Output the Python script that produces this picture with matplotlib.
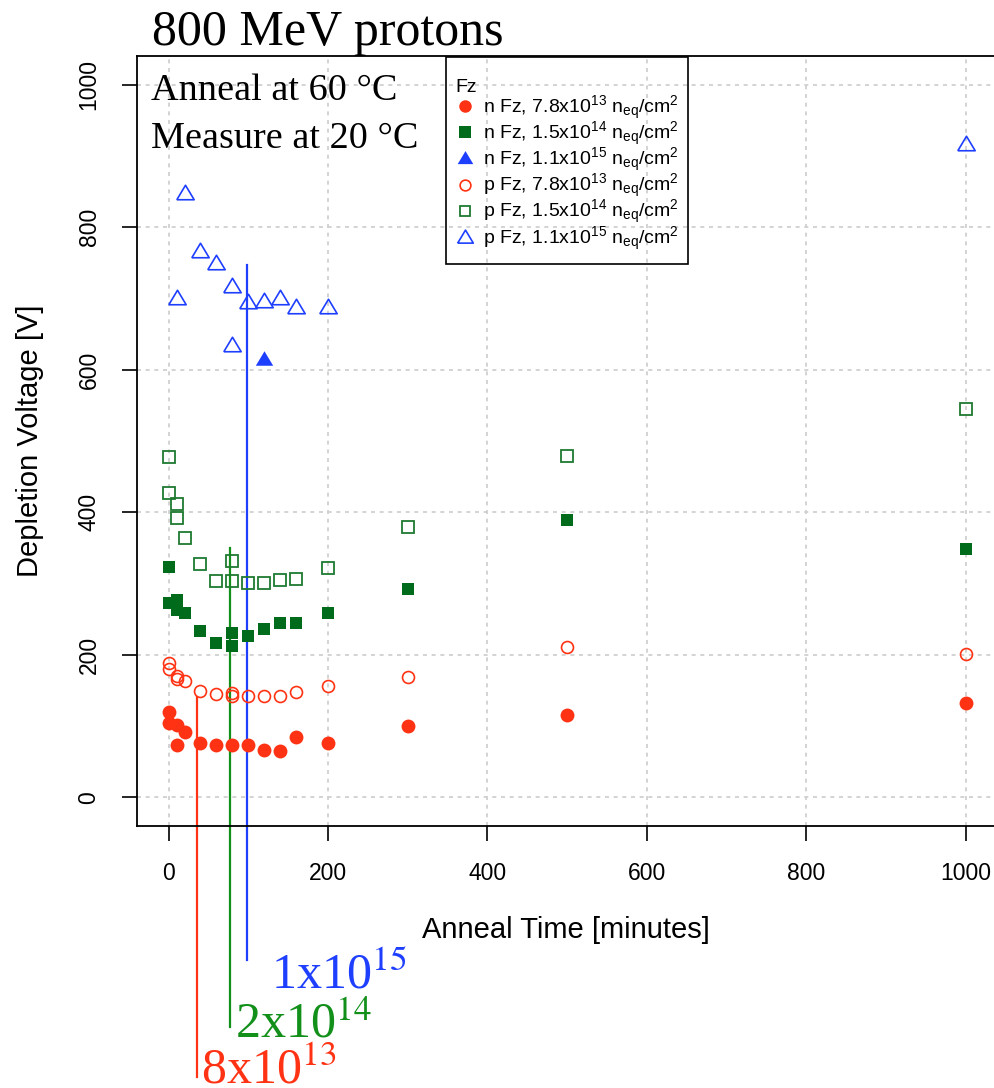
import matplotlib
matplotlib.use("Agg")
import matplotlib.pyplot as plt
from matplotlib.patches import Rectangle
import numpy as np

plt.rcParams['font.family'] = ['Liberation Sans', 'DejaVu Sans']
plt.rcParams['mathtext.fontset'] = 'custom'
plt.rcParams['mathtext.rm'] = 'Liberation Sans'
plt.rcParams['mathtext.it'] = 'Liberation Sans:italic'
plt.rcParams['mathtext.bf'] = 'Liberation Sans:bold'

# ---- data (anneal time [min], depletion voltage [V]) ----
n78_t = [0, 0, 10, 10, 20, 40, 60, 80, 100, 120, 140, 160, 200, 300, 500, 1000]
n78_v = [120, 105, 102, 74, 92, 76, 74, 74, 73, 67, 65, 85, 77, 100, 115, 133]

p78_t = [0, 0, 10, 10, 20, 40, 60, 80, 80, 100, 120, 140, 160, 200, 300, 500, 1000]
p78_v = [188, 180, 170, 166, 163, 149, 145, 146, 142, 143, 143, 143, 148, 157, 169, 211, 201]

n15_t = [0, 0, 10, 10, 20, 40, 60, 80, 80, 100, 120, 140, 160, 200, 300, 500, 1000]
n15_v = [323, 273, 277, 263, 259, 233, 217, 231, 213, 226, 237, 245, 245, 259, 293, 389, 349]

p15_t = [0, 0, 10, 10, 20, 40, 60, 80, 80, 100, 120, 140, 160, 200, 300, 500, 1000]
p15_v = [478, 427, 411, 392, 364, 327, 304, 331, 303, 301, 301, 305, 307, 322, 379, 479, 545]

n11_t = [120]
n11_v = [615]

p11_t = [10, 20, 40, 60, 80, 80, 100, 120, 140, 160, 200, 1000]
p11_v = [701, 848, 767, 749, 718, 634, 695, 697, 700, 688, 688, 917]

labels = [
    r"n Fz, 7.8x10$^{\mathrm{13}}$ n$_{\mathrm{eq}}$/cm$^{\mathrm{2}}$",
    r"n Fz, 1.5x10$^{\mathrm{14}}$ n$_{\mathrm{eq}}$/cm$^{\mathrm{2}}$",
    r"n Fz, 1.1x10$^{\mathrm{15}}$ n$_{\mathrm{eq}}$/cm$^{\mathrm{2}}$",
    r"p Fz, 7.8x10$^{\mathrm{13}}$ n$_{\mathrm{eq}}$/cm$^{\mathrm{2}}$",
    r"p Fz, 1.5x10$^{\mathrm{14}}$ n$_{\mathrm{eq}}$/cm$^{\mathrm{2}}$",
    r"p Fz, 1.1x10$^{\mathrm{15}}$ n$_{\mathrm{eq}}$/cm$^{\mathrm{2}}$",
]

# annotation markers (fluence guide lines)
ann_x = [98, 77.5, 36]
ann_top = [747, 350, 141]
ann_bottom = [-228, -322, -392]
ann_text = [r"1x10$^{15}$", r"2x10$^{14}$", r"8x10$^{13}$"]
ann_tx = [129, 83, 41]
ann_ty = [-268, -337, -401]

xticks = [0, 200, 400, 600, 800, 1000]
yticks = [0, 200, 400, 600, 800, 1000]

RED = '#FF3314'
GREEN = '#006B1A'
GREEN_O = '#1F7A30'
BLUE = '#1F3FFF'
LGREEN = '#12901A'

W, H = 994, 1088
fig = plt.figure(figsize=(W / 100, H / 100), dpi=100)
L, R, T, B = 136.7, 997.6, 56, 826
ax = fig.add_axes([L / W, 1 - B / H, (R - L) / W, (B - T) / H])
ax.set_xlim(-40, 1040)
ax.set_ylim(-40, 1040)

ax.set_xticks(xticks)
ax.set_yticks(yticks)
ax.grid(True, color='#d0d0d0', linestyle=(0, (2.2, 2.6)), linewidth=1.3, zorder=0)
ax.set_axisbelow(True)

tri = [(-1, -0.72), (1, -0.72), (0, 0.95), (-1, -0.72)]

h1, = ax.plot(n78_t, n78_v, 'o', color=RED, ms=10.0, mec=RED, mew=0, zorder=3, clip_on=False)
h2, = ax.plot(n15_t, n15_v, 's', color=GREEN, ms=8.8, mec=GREEN, mew=0, zorder=3, clip_on=False)
h3, = ax.plot(n11_t, n11_v, marker=tri, ls='none', color=BLUE, ms=12.5, mec=BLUE, mew=0, zorder=3)
h4, = ax.plot(p78_t, p78_v, 'o', mfc='none', mec=RED, ms=8.6, mew=1.2, zorder=3)
h5, = ax.plot(p15_t, p15_v, 's', mfc='none', mec=GREEN_O, ms=8.0, mew=1.3, zorder=3)
h6, = ax.plot(p11_t, p11_v, marker=tri, ls='none', mfc='none', mec=BLUE, ms=12.5, mew=1.2, zorder=3)

for sp in ['top', 'left', 'bottom', 'right']:
    ax.spines[sp].set_linewidth(1.3)

ax.tick_params(direction='out', length=11, width=1.2, labelsize=16.5, pad=15)
for lab in ax.get_yticklabels():
    lab.set_rotation(90)
    lab.set_va('center')

ax.set_xlabel("Anneal Time [minutes]", fontsize=21)
ax.xaxis.set_label_coords((566 - L) / (R - L), (B - 930) / (B - T))
ax.xaxis.label.set_va('center')
ax.set_ylabel("Depletion Voltage [V]", fontsize=21)
ax.yaxis.set_label_coords((30 - L) / (R - L), (B - 441) / (B - T))
ax.yaxis.label.set_va('center')

# title and condition text
ax.text((152 - L) / (R - L), (B - 45) / (B - T), "800 MeV protons", transform=ax.transAxes,
        fontsize=36, family='Liberation Serif', va='baseline', ha='left')
ax.text((151 - L) / (R - L), (B - 100) / (B - T), "Anneal at 60 \u00b0C", transform=ax.transAxes,
        fontsize=27.5, family='Liberation Serif', va='baseline', ha='left')
ax.text((151 - L) / (R - L), (B - 148) / (B - T), "Measure at 20 \u00b0C", transform=ax.transAxes,
        fontsize=27.5, family='Liberation Serif', va='baseline', ha='left')

# fluence guide lines and labels
ann_col = [BLUE, LGREEN, RED]
for x, t0, b0, txt, tx, ty, c in zip(ann_x, ann_top, ann_bottom, ann_text, ann_tx, ann_ty, ann_col):
    ax.plot([x, x], [b0, t0], color=c, lw=1.6, clip_on=False, zorder=2)
    ax.text(tx, ty, txt, color=c, fontsize=36, family='Liberation Serif', math_fontfamily='stix',
            va='baseline', ha='left', clip_on=False)

# legend (contents) + separate box
leg = ax.legend([h1, h2, h3, h4, h5, h6], labels, title="Fz", loc='upper left',
                bbox_to_anchor=((446 - L) / (R - L), (B - 69) / (B - T)),
                borderaxespad=0, fontsize=14, title_fontsize=14, alignment='left',
                handlelength=1.0, handletextpad=0.4, labelspacing=-0.1,
                borderpad=0.5, frameon=False, markerscale=0.9)
box = Rectangle(((446 - L) / (R - L), (B - 264) / (B - T)), (688 - 446) / (R - L), (264 - 57) / (B - T),
                transform=ax.transAxes, fill=False, edgecolor='black', linewidth=1.2,
                clip_on=False, zorder=5)
ax.add_patch(box)

fig.savefig("out.png", dpi=100)
